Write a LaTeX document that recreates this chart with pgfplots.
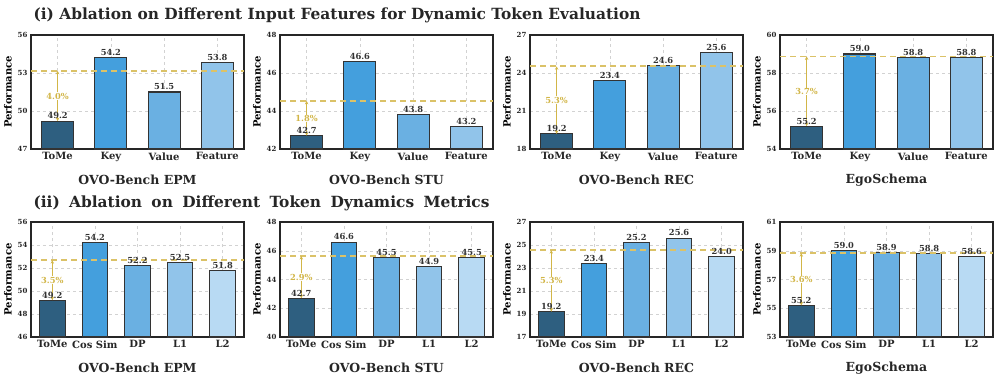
\documentclass[border=0pt]{standalone}
\usepackage{fontspec}
\setmainfont{DejaVu Serif}
\usepackage{pgfplots}
\pgfplotsset{compat=1.18}
\usetikzlibrary{arrows.meta}
\definecolor{c1}{HTML}{2E5F80}
\definecolor{c2}{HTML}{449FDD}
\definecolor{c3}{HTML}{6AB0E2}
\definecolor{c4}{HTML}{91C4EA}
\definecolor{c5}{HTML}{B8DAF3}
\definecolor{gold}{HTML}{DBC268}
\definecolor{goldt}{HTML}{D2B648}
\pgfplotsset{
  panel/.style={
    scale only axis, width=213pt, height=114pt,
    axis line style={line width=1.2pt, black!85},
    /pgf/number format/assume math mode=true,
    major tick length=0pt,
    grid=major,
    major grid style={dashed, gray!35, line width=0.5pt},
    tick label style={font=\bfseries\fontsize{10}{12}\selectfont, text=black!85},
    yticklabel style={font=\bfseries\fontsize{7}{8}\selectfont, text=black!85},
    ylabel={\bfseries Performance},
    ylabel style={font=\bfseries\fontsize{10.5}{12}\selectfont, text=black!85},
    every axis y label/.style={at={(axis description cs:-0.108,0.5)}, rotate=90, anchor=center},
    every axis x label/.style={at={(axis description cs:0.5,-0.272)}, anchor=center},
    xlabel style={font=\bfseries\fontsize{12.5}{14}\selectfont, text=black!85},
    clip=false,
  },
  four/.style={panel, xmin=-0.5, xmax=3.5, xtick={0,1,2,3}, xticklabels={ToMe,Key,Value,Feature}},
  five/.style={panel, height=115pt, xmin=-0.5, xmax=4.5, xtick={0,1,2,3,4}, xticklabels={ToMe,Cos Sim,DP,L1,L2}},
}
\newcommand{\mybar}[3]{%
  \addplot[ybar, bar shift=0pt, bar width=0.6, fill=#3, draw=black!80, line width=1.1pt,
    nodes near coords={\pgfmathprintnumber[fixed,fixed zerofill,precision=1]{\pgfplotspointmeta}},
    every node near coord/.append style={font=\bfseries\fontsize{8.3}{9}\selectfont, text=black!80, inner sep=1.5pt}]
    coordinates {(#1,#2)};}
\newcommand{\meanline}[4]{%
  \addplot[gold, line width=1.6pt, dash pattern=on 6pt off 4pt] coordinates {(-0.5,#2) (#1,#2)};
  \addplot[goldt, line width=0.8pt, {Stealth[length=3.5pt,width=3.5pt]}-{Stealth[length=3.5pt,width=3.5pt]}] coordinates {(0,#3) (0,#2)}
    node[pos=0.5, text=goldt, fill=white, inner sep=0.6pt, font=\bfseries\fontsize{8.3}{9}\selectfont] {#4\%};}
\begin{document}
\begin{tikzpicture}
\useasboundingbox (0,0) rectangle (996pt,386pt);
\node[anchor=west, text=black!85] at (30pt,371pt) {\bfseries\fontsize{15.4}{18}\selectfont (i) Ablation on Different Input Features for Dynamic Token Evaluation};
\node[anchor=west, text=black!85] at (30pt,183pt) {\makebox[456pt][s]{\bfseries\fontsize{15.4}{18}\selectfont (ii) Ablation on Different Token Dynamics Metrics}};
% ---- top row
\begin{axis}[four, at={(31pt,237pt)}, anchor=south west, ymin=47, ymax=56, ytick={47,50,53,56}, xlabel={OVO-Bench EPM}]
\mybar{0}{49.2}{c1}\mybar{1}{54.2}{c2}\mybar{2}{51.5}{c3}\mybar{3}{53.8}{c4}
\meanline{3.5}{53.17}{49.2}{4.0}
\end{axis}
\begin{axis}[four, at={(280pt,237pt)}, anchor=south west, ymin=42, ymax=48, ytick={42,44,46,48}, xlabel={OVO-Bench STU}]
\mybar{0}{42.7}{c1}\mybar{1}{46.6}{c2}\mybar{2}{43.8}{c3}\mybar{3}{43.2}{c4}
\meanline{3.5}{44.53}{42.7}{1.8}
\end{axis}
\begin{axis}[four, at={(530pt,237pt)}, anchor=south west, ymin=18, ymax=27, ytick={18,21,24,27}, xlabel={OVO-Bench REC}]
\mybar{0}{19.2}{c1}\mybar{1}{23.4}{c2}\mybar{2}{24.6}{c3}\mybar{3}{25.6}{c4}
\meanline{3.5}{24.53}{19.2}{5.3}
\end{axis}
\begin{axis}[four, at={(780pt,237pt)}, anchor=south west, ymin=54, ymax=60, ytick={54,56,58,60}, xlabel={EgoSchema}]
\mybar{0}{55.2}{c1}\mybar{1}{59.0}{c2}\mybar{2}{58.8}{c3}\mybar{3}{58.8}{c4}
\meanline{3.5}{58.87}{55.2}{3.7}
\end{axis}
% ---- bottom row
\begin{axis}[five, at={(31pt,49pt)}, anchor=south west, ymin=46, ymax=56, ytick={46,48,50,52,54,56}, xlabel={OVO-Bench EPM}]
\mybar{0}{49.2}{c1}\mybar{1}{54.2}{c2}\mybar{2}{52.2}{c3}\mybar{3}{52.5}{c4}\mybar{4}{51.8}{c5}
\meanline{4.5}{52.68}{49.2}{3.5}
\end{axis}
\begin{axis}[five, at={(280pt,49pt)}, anchor=south west, ymin=40, ymax=48, ytick={40,42,44,46,48}, xlabel={OVO-Bench STU}]
\mybar{0}{42.7}{c1}\mybar{1}{46.6}{c2}\mybar{2}{45.5}{c3}\mybar{3}{44.9}{c4}\mybar{4}{45.5}{c5}
\meanline{4.5}{45.63}{42.7}{2.9}
\end{axis}
\begin{axis}[five, at={(530pt,49pt)}, anchor=south west, ymin=17, ymax=27, ytick={17,19,21,23,25,27}, xlabel={OVO-Bench REC}]
\mybar{0}{19.2}{c1}\mybar{1}{23.4}{c2}\mybar{2}{25.2}{c3}\mybar{3}{25.6}{c4}\mybar{4}{24.0}{c5}
\meanline{4.5}{24.55}{19.2}{5.3}
\end{axis}
\begin{axis}[five, at={(780pt,49pt)}, anchor=south west, ymin=53, ymax=61, ytick={53,55,57,59,61}, xlabel={EgoSchema}]
\mybar{0}{55.2}{c1}\mybar{1}{59.0}{c2}\mybar{2}{58.9}{c3}\mybar{3}{58.8}{c4}\mybar{4}{58.6}{c5}
\meanline{4.5}{58.83}{55.2}{3.6}
\end{axis}
\end{tikzpicture}
\end{document}
